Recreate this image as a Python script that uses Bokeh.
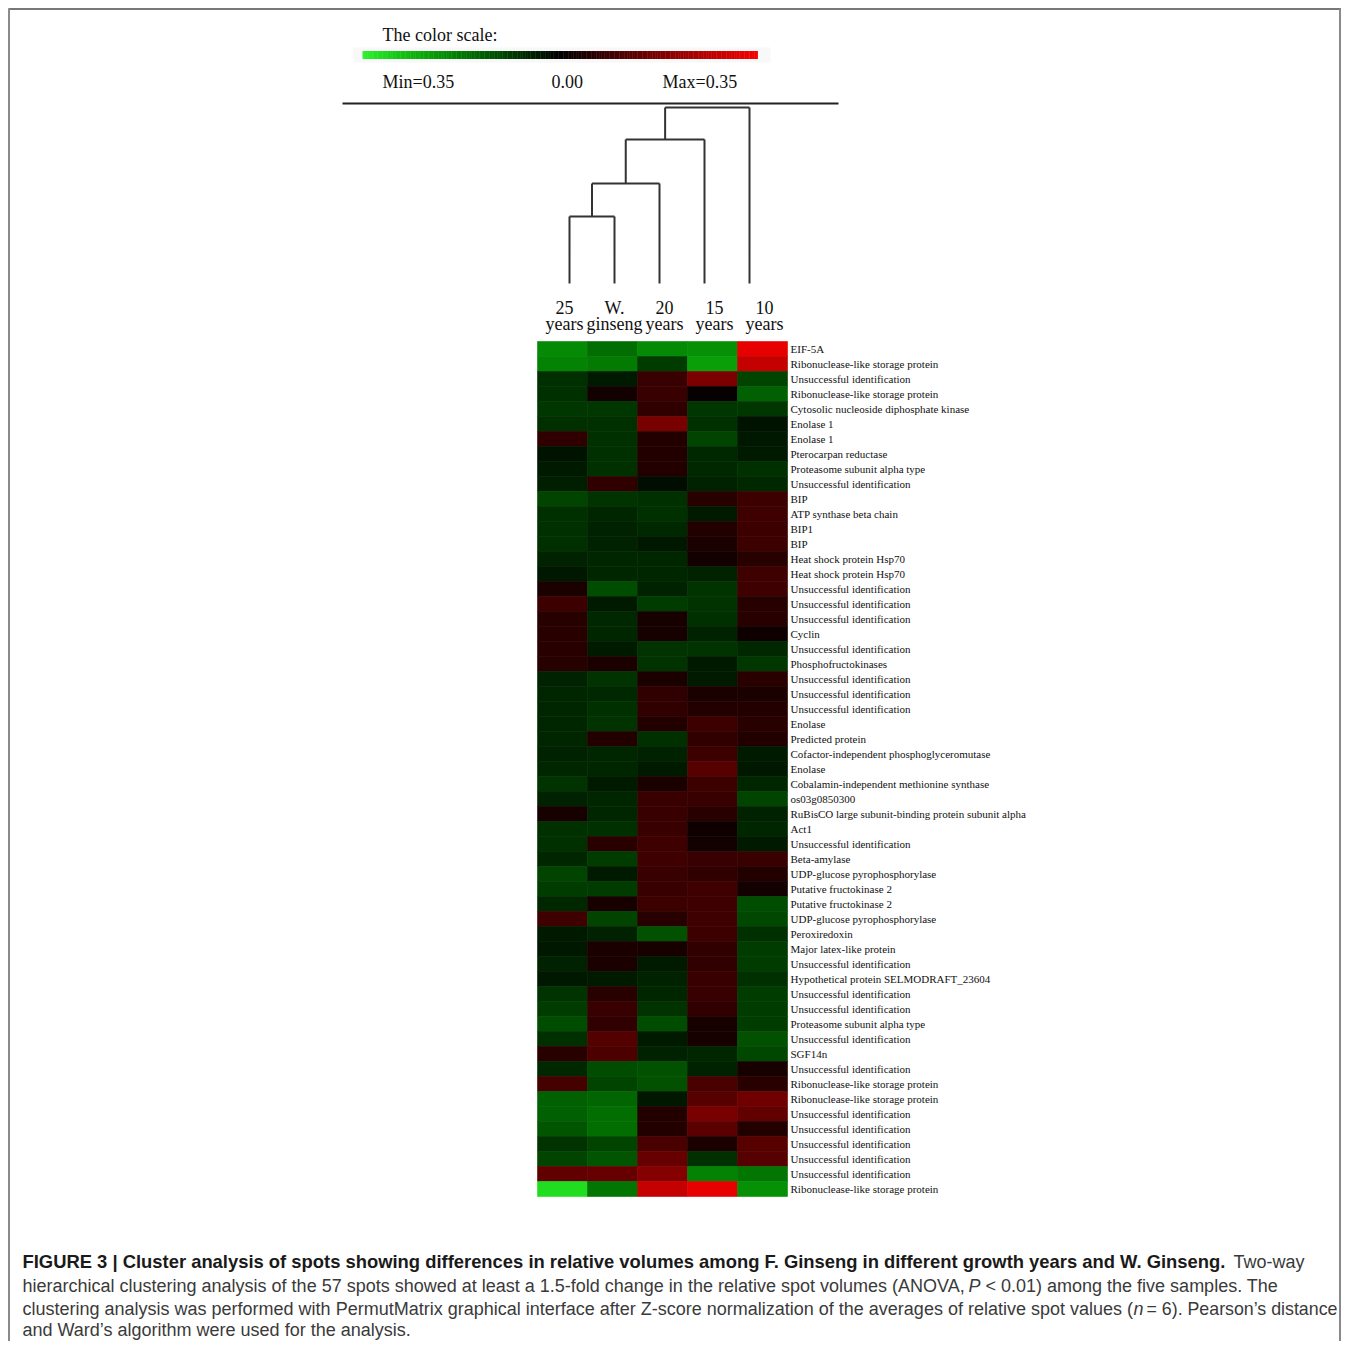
import numpy as np
from bokeh.plotting import figure
from bokeh.models import Range1d, ColumnDataSource, LinearColorMapper
from bokeh.transform import transform
from bokeh.core.properties import value
from bokeh.embed import file_html
from bokeh.resources import INLINE

# ---------------- data ----------------
col_top = ["25", "W.", "20", "15", "10"]
col_bottom = ["years", "ginseng", "years", "years", "years"]

row_labels = [
    "EIF-5A", "Ribonuclease-like storage protein", "Unsuccessful identification",
    "Ribonuclease-like storage protein", "Cytosolic nucleoside diphosphate kinase",
    "Enolase 1", "Enolase 1", "Pterocarpan reductase", "Proteasome subunit alpha type",
    "Unsuccessful identification", "BIP", "ATP synthase beta chain", "BIP1", "BIP",
    "Heat shock protein Hsp70", "Heat shock protein Hsp70", "Unsuccessful identification",
    "Unsuccessful identification", "Unsuccessful identification", "Cyclin",
    "Unsuccessful identification", "Phosphofructokinases", "Unsuccessful identification",
    "Unsuccessful identification", "Unsuccessful identification", "Enolase",
    "Predicted protein", "Cofactor-independent phosphoglyceromutase", "Enolase",
    "Cobalamin-independent methionine synthase", "os03g0850300",
    "RuBisCO large subunit-binding protein subunit alpha", "Act1",
    "Unsuccessful identification", "Beta-amylase", "UDP-glucose pyrophosphorylase",
    "Putative fructokinase 2", "Putative fructokinase 2", "UDP-glucose pyrophosphorylase",
    "Peroxiredoxin", "Major latex-like protein", "Unsuccessful identification",
    "Hypothetical protein SELMODRAFT_23604", "Unsuccessful identification",
    "Unsuccessful identification", "Proteasome subunit alpha type",
    "Unsuccessful identification", "SGF14n", "Unsuccessful identification",
    "Ribonuclease-like storage protein", "Ribonuclease-like storage protein",
    "Unsuccessful identification", "Unsuccessful identification",
    "Unsuccessful identification", "Unsuccessful identification",
    "Unsuccessful identification", "Ribonuclease-like storage protein",
]

v_25y = [-0.20, -0.19, -0.07, -0.07, -0.08, -0.07, 0.07, -0.03, -0.04, -0.045,
         -0.10, -0.07, -0.07, -0.07, -0.05, -0.035, 0.04, 0.085, 0.055, 0.06,
         0.06, 0.055, -0.05, -0.055, -0.055, -0.055, -0.055, -0.05, -0.055, -0.075,
         -0.05, 0.035, -0.07, -0.07, -0.055, -0.10, -0.09, -0.06, 0.09, -0.04,
         -0.035, -0.05, -0.035, -0.075, -0.085, -0.11, -0.07, 0.06, -0.06, 0.10,
         -0.14, -0.14, -0.125, -0.075, -0.10, 0.14, -0.32]
v_wild = [-0.16, -0.18, -0.04, 0.03, -0.08, -0.07, -0.07, -0.07, -0.07, 0.07,
          -0.075, -0.055, -0.05, -0.05, -0.055, -0.055, -0.11, -0.04, -0.06, -0.055,
          -0.04, 0.04, -0.075, -0.06, -0.07, -0.075, 0.05, -0.055, -0.055, -0.04,
          -0.055, -0.055, -0.07, 0.06, -0.09, -0.04, -0.085, 0.035, -0.10, -0.05,
          0.04, 0.04, -0.04, 0.06, 0.08, 0.07, 0.12, 0.11, -0.11, -0.10,
          -0.15, -0.16, -0.16, -0.10, -0.125, 0.145, -0.17]
v_20y = [-0.20, -0.09, 0.08, 0.08, 0.07, 0.17, 0.05, 0.05, 0.05, -0.02,
         -0.07, -0.07, -0.06, -0.035, -0.055, -0.055, -0.05, -0.09, 0.035, 0.035,
         -0.075, -0.075, 0.04, 0.07, 0.07, 0.05, -0.07, -0.05, -0.04, 0.04,
         0.08, 0.08, 0.08, 0.09, 0.09, 0.08, 0.08, 0.085, 0.055, -0.12,
         0.035, -0.04, -0.05, -0.055, -0.075, -0.11, -0.04, -0.05, -0.12, -0.12,
         -0.035, 0.05, 0.05, 0.105, 0.145, 0.19, 0.28]
v_15y = [-0.21, -0.23, 0.18, 0.01, -0.08, -0.07, -0.10, -0.06, -0.06, -0.05,
         0.055, -0.04, 0.05, 0.04, 0.03, -0.05, -0.075, -0.075, -0.07, -0.05,
         -0.075, -0.04, -0.04, 0.04, 0.05, 0.085, 0.07, 0.085, 0.125, 0.085,
         0.08, 0.06, 0.02, 0.03, 0.08, 0.07, 0.09, 0.09, 0.09, 0.085,
         0.07, 0.07, 0.08, 0.08, 0.07, 0.035, 0.035, -0.055, -0.05, 0.105,
         0.125, 0.17, 0.13, 0.04, -0.07, -0.19, 0.33]
v_10y = [0.33, 0.28, -0.10, -0.14, -0.08, -0.03, -0.035, -0.04, -0.07, -0.06,
         0.085, 0.09, 0.085, 0.085, 0.055, 0.09, 0.09, 0.055, 0.06, 0.02,
         -0.06, -0.08, 0.06, 0.04, 0.05, 0.06, 0.05, -0.04, -0.035, -0.055,
         -0.10, -0.05, -0.055, -0.04, 0.08, 0.05, 0.03, -0.11, -0.105, -0.07,
         -0.09, -0.085, -0.07, -0.085, -0.085, -0.09, -0.12, -0.105, 0.035, 0.06,
         0.16, 0.14, 0.05, 0.125, 0.125, -0.17, -0.21]

scale_min, scale_max = -0.35, 0.35
scale_labels = ["Min=0.35", "0.00", "Max=0.35"]

# dendrogram over columns: (left node, right node, height relative to max)
linkage = [(0, 1, 0.381), (5, 2, 0.568), (6, 3, 0.818), (7, 4, 1.0)]

# ---------------- palette ----------------
def build_palette():
    pal = []
    n = 128
    for i in range(n):
        t = 1 - i / (n - 1)
        g = int(round(240 * t))
        rb = int(round(45 * t ** 4))
        pal.append("#%02x%02x%02x" % (rb, g, rb))
    for i in range(n):
        t = i / (n - 1)
        r = int(round(245 * t))
        pal.append("#%02x%02x%02x" % (r, 0, 0))
    return pal

palette = build_palette()
mapper = LinearColorMapper(palette=palette, low=scale_min, high=scale_max)

# ---------------- figure (main coords = picture pixels) ----------------
W = H = 1341
X0, Y0 = 0, 0
p = figure(width=W, height=H, x_range=Range1d(X0, X0 + W), y_range=Range1d(Y0 + H, Y0),
           output_backend="svg", toolbar_location=None, min_border=0,
           x_axis_location=None, y_axis_location=None, outline_line_color=None,
           background_fill_color="white", border_fill_color="white")
p.grid.visible = False

def lin_range(anchor_px, unit_px, lo, hi):
    return Range1d((lo - anchor_px) / unit_px, (hi - anchor_px) / unit_px)

# heatmap coordinate system
heat_left, heat_top, cell_w, cell_h = 537, 341, 50, 15
p.extra_x_ranges["hx"] = lin_range(heat_left, cell_w, X0, X0 + W)
p.extra_y_ranges["hy"] = lin_range(heat_top, cell_h, Y0 + H, Y0)
# dendrogram coordinate system
leaf0, leaf_step, dend_base, dend_span = 569, 45, 283, 176
p.extra_x_ranges["dx"] = lin_range(leaf0, leaf_step, X0, X0 + W)
p.extra_y_ranges["dy"] = Range1d((dend_base - (Y0 + H)) / dend_span, (dend_base - Y0) / dend_span)

# frame border
p.segment(x0=[8], y0=[8.5], x1=[X0 + W], y1=[8.5], line_color="#4a4a4a", line_width=1.5)
p.segment(x0=[8.5], y0=[8], x1=[8.5], y1=[Y0 + H], line_color="#8a8a8a", line_width=2)
p.segment(x0=[X0 + W - 1.5], y0=[8], x1=[X0 + W - 1.5], y1=[Y0 + H], line_color="#8a8a8a", line_width=2)

serif = value("Liberation Serif")
sans = value("Liberation Sans")

# ---------------- color scale ----------------
p.text(x=[382], y=[34], text=["The color scale:"], text_font=serif, text_font_size="18px",
       text_baseline="middle", text_color="#111111")
p.quad(left=[353], right=[770], top=[47], bottom=[62], fill_color="#f8f8f8", line_color=None)
grad_vals = np.linspace(scale_min, scale_max, 240)
bar_l, bar_r = 362, 757
edges = np.linspace(bar_l, bar_r, len(grad_vals) + 1)
gsrc = ColumnDataSource(dict(l=edges[:-1], r=edges[1:] + 0.4, v=grad_vals))
p.quad(left="l", right="r", top=50.5, bottom=58.5, source=gsrc,
       fill_color=transform("v", mapper), line_color=None)
p.text(x=[382, 551, 662], y=[81, 81, 81], text=scale_labels, text_font=serif,
       text_font_size="18px", text_baseline="middle", text_color="#111111")
p.segment(x0=[342], y0=[103], x1=[838], y1=[103], line_color="#222222", line_width=2)

# ---------------- dendrogram ----------------
n_cols = len(col_top)
node_x = list(range(n_cols))
node_h = [0.0] * n_cols
sx0, sy0, sx1, sy1 = [], [], [], []
for a, b, h in linkage:
    xa, xb, ha, hb = node_x[a], node_x[b], node_h[a], node_h[b]
    sx0 += [xa, xb, xa]; sy0 += [ha, hb, h]
    sx1 += [xa, xb, xb]; sy1 += [h, h, h]
    node_x.append((xa + xb) / 2)
    node_h.append(h)
p.segment(x0=sx0, y0=sy0, x1=sx1, y1=sy1, x_range_name="dx", y_range_name="dy",
          line_color="#333333", line_width=2)

# ---------------- column labels ----------------
cx = [i + 0.5 for i in range(n_cols)]
p.text(x=cx, y=[307] * n_cols, text=col_top, x_range_name="hx", x_offset=2, text_font=serif,
       text_font_size="18px", text_align="center", text_baseline="middle", text_color="#111111")
p.text(x=cx, y=[323] * n_cols, text=col_bottom, x_range_name="hx", x_offset=2, text_font=serif,
       text_font_size="18px", text_align="center", text_baseline="middle", text_color="#111111")

# ---------------- heatmap ----------------
series = [v_25y, v_wild, v_20y, v_15y, v_10y]
n_rows = len(row_labels)
hx, hy, hv = [], [], []
for j, s in enumerate(series):
    for i, v in enumerate(s):
        hx.append(j + 0.5); hy.append(i + 0.5); hv.append(v)
hsrc = ColumnDataSource(dict(x=hx, y=hy, v=hv))
p.rect(x="x", y="y", width=1, height=1, source=hsrc, x_range_name="hx", y_range_name="hy",
       fill_color=transform("v", mapper), line_color=transform("v", mapper), line_width=0.6)

p.text(x=[n_cols] * n_rows, y=[i + 0.5 for i in range(n_rows)], text=row_labels,
       x_range_name="hx", y_range_name="hy", x_offset=3, text_font=serif,
       text_font_size="11px", text_baseline="middle", text_color="#111111")

# ---------------- caption ----------------
cap_size = "18px"
cap_col = "#3a3a3a"
ly = [1261, 1285, 1308, 1329]
bold_txt = ("FIGURE 3 | Cluster analysis of spots showing differences in relative volumes among "
            "F. Ginseng in different growth years and W. Ginseng.")
p.text(x=[22], y=[ly[0]], text=[bold_txt], text_font=sans, text_font_size="18.4px",
       text_font_style="bold", text_baseline="middle", text_color="#1a1a1a")
p.text(x=[1233], y=[ly[0]], text=["Two-way"], text_font=sans, text_font_size=cap_size,
       text_baseline="middle", text_color=cap_col)
p.text(x=[22], y=[ly[1]], text=["hierarchical clustering analysis of the 57 spots showed at least a 1.5-fold "
                               "change in the relative spot volumes (ANOVA,"],
       text_font=sans, text_font_size=cap_size, text_baseline="middle", text_color=cap_col)
p.text(x=[968], y=[ly[1]], text=["P"], text_font=sans, text_font_size=cap_size, text_font_style="italic",
       text_baseline="middle", text_color=cap_col)
p.text(x=[985], y=[ly[1]], text=["< 0.01) among the five samples. The"], text_font=sans,
       text_font_size=cap_size, text_baseline="middle", text_color=cap_col)
p.text(x=[22], y=[ly[2]], text=["clustering analysis was performed with PermutMatrix graphical interface after "
                               "Z-score normalization of the averages of relative spot values ("],
       text_font=sans, text_font_size=cap_size, text_baseline="middle", text_color=cap_col)
p.text(x=[1133], y=[ly[2]], text=["n"], text_font=sans, text_font_size=cap_size, text_font_style="italic",
       text_baseline="middle", text_color=cap_col)
p.text(x=[1146], y=[ly[2]], text=["= 6). Pearson\u2019s distance"], text_font=sans, text_font_size="17.8px",
       text_baseline="middle", text_color=cap_col)
p.text(x=[22], y=[ly[3]], text=["and Ward\u2019s algorithm were used for the analysis."], text_font=sans,
       text_font_size=cap_size, text_baseline="middle", text_color=cap_col)

open("out.html", "w").write(file_html(p, INLINE))
